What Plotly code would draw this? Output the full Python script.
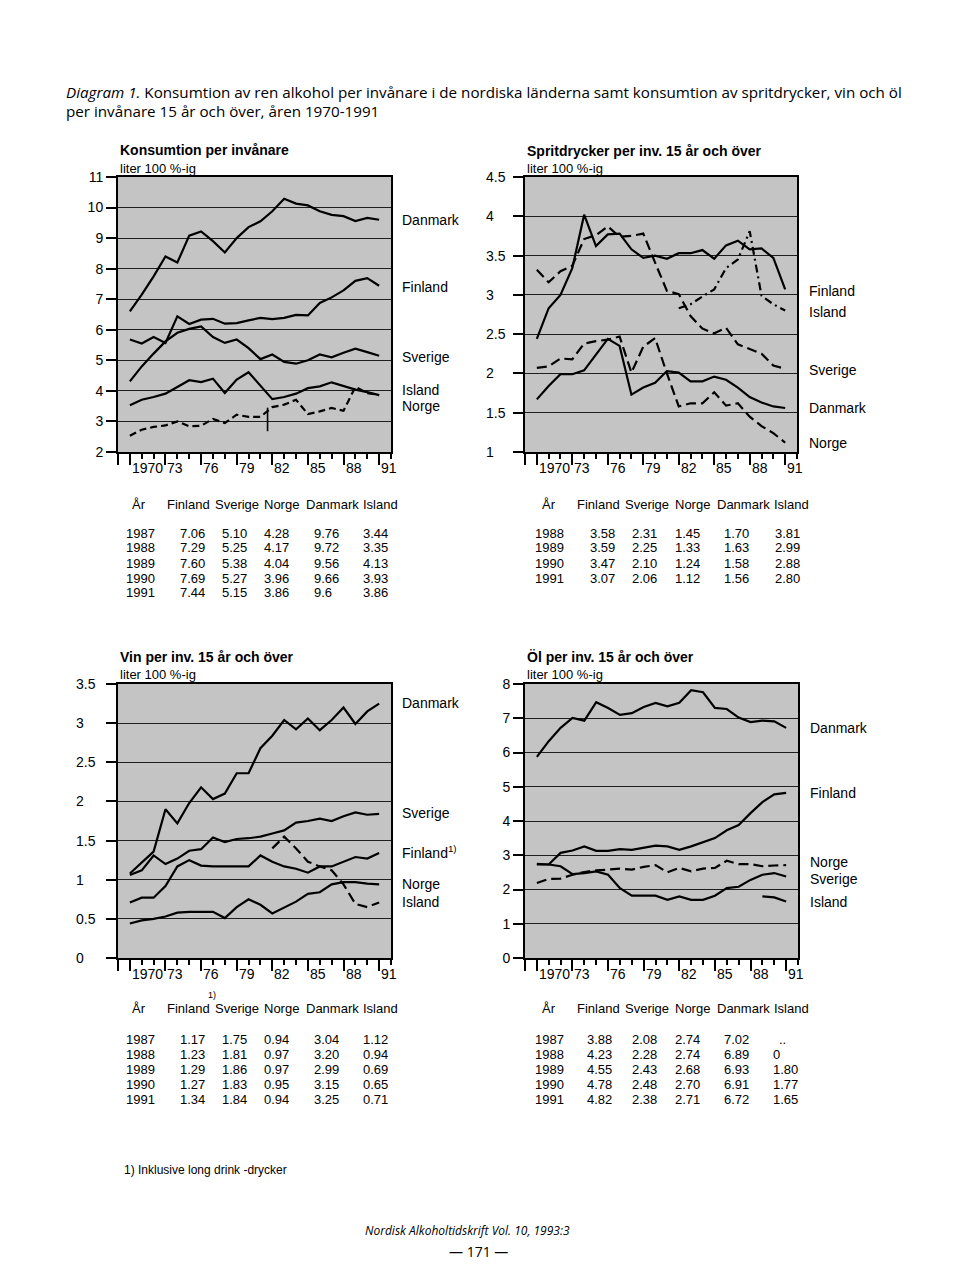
import plotly.graph_objects as go

W, H = 960, 1265
SANS = "Liberation Sans, Arial, sans-serif"
CAP = "Open Sans, sans-serif"

years = list(range(1970, 1992))
label_years = [1970, 1973, 1976, 1979, 1982, 1985, 1988, 1991]

# ---- Konsumtion per invånare (total) ----
tot_danmark = [6.60, 7.15, 7.75, 8.40, 8.20, 9.08, 9.22, 8.90, 8.53, 9.00, 9.36, 9.55, 9.88, 10.29, 10.13, 10.07, 9.88, 9.76, 9.72, 9.56, 9.66, 9.60]
tot_finland = [5.68, 5.55, 5.76, 5.57, 6.44, 6.19, 6.33, 6.36, 6.20, 6.22, 6.31, 6.39, 6.35, 6.39, 6.49, 6.47, 6.88, 7.06, 7.29, 7.60, 7.69, 7.44]
tot_sverige = [4.31, 4.80, 5.22, 5.62, 5.90, 6.03, 6.11, 5.76, 5.57, 5.68, 5.40, 5.04, 5.19, 4.95, 4.89, 5.00, 5.19, 5.10, 5.25, 5.38, 5.27, 5.15]
tot_norge = [3.53, 3.71, 3.80, 3.91, 4.13, 4.35, 4.29, 4.40, 3.93, 4.37, 4.61, 4.17, 3.73, 3.80, 3.91, 4.09, 4.15, 4.28, 4.17, 4.04, 3.96, 3.86]
tot_island = [2.53, 2.73, 2.82, 2.87, 3.00, 2.84, 2.86, 3.08, 2.95, 3.22, 3.15, 3.15, 3.47, 3.55, 3.71, 3.24, 3.33, 3.44, 3.35, 4.13, 3.93, 3.86]
island_break_year = 1981.6
island_break_values = [2.68, 3.45]

# ---- Spritdrycker ----
spr_finland = [2.44, 2.83, 3.00, 3.34, 4.02, 3.62, 3.77, 3.78, 3.58, 3.47, 3.50, 3.46, 3.53, 3.53, 3.57, 3.46, 3.63, 3.69, 3.58, 3.59, 3.47, 3.07]
spr_sverige = [3.32, 3.16, 3.30, 3.37, 3.71, 3.76, 3.87, 3.74, 3.75, 3.78, 3.41, 3.05, 3.01, 2.73, 2.57, 2.51, 2.58, 2.37, 2.31, 2.25, 2.10, 2.06]
spr_norge = [2.07, 2.09, 2.19, 2.18, 2.38, 2.41, 2.43, 2.47, 2.01, 2.34, 2.45, 2.00, 1.58, 1.62, 1.62, 1.76, 1.59, 1.62, 1.45, 1.33, 1.24, 1.12]
spr_danmark = [1.67, 1.84, 1.99, 1.99, 2.04, 2.24, 2.44, 2.35, 1.73, 1.82, 1.88, 2.03, 2.01, 1.90, 1.90, 1.96, 1.92, 1.82, 1.70, 1.63, 1.58, 1.56]
spr_island = [None] * 12 + [2.83, 2.88, 2.98, 3.07, 3.34, 3.45, 3.81, 2.99, 2.88, 2.80]

# ---- Vin ----
vin_danmark = [1.08, 1.22, 1.36, 1.90, 1.72, 1.98, 2.18, 2.03, 2.10, 2.36, 2.36, 2.68, 2.84, 3.04, 2.92, 3.06, 2.91, 3.04, 3.20, 2.99, 3.15, 3.25]
vin_sverige = [1.06, 1.12, 1.31, 1.20, 1.27, 1.37, 1.39, 1.54, 1.48, 1.52, 1.53, 1.55, 1.59, 1.63, 1.73, 1.75, 1.78, 1.75, 1.81, 1.86, 1.83, 1.84]
vin_finland = [0.71, 0.77, 0.77, 0.92, 1.17, 1.25, 1.18, 1.17, 1.17, 1.17, 1.17, 1.31, 1.23, 1.17, 1.14, 1.09, 1.17, 1.17, 1.23, 1.29, 1.27, 1.34]
vin_norge = [0.44, 0.48, 0.50, 0.53, 0.58, 0.59, 0.59, 0.59, 0.51, 0.65, 0.75, 0.68, 0.57, 0.65, 0.72, 0.82, 0.84, 0.94, 0.97, 0.97, 0.95, 0.94]
vin_island = [None] * 12 + [1.40, 1.55, 1.40, 1.23, 1.17, 1.12, 0.94, 0.69, 0.65, 0.71]

# ---- Öl ----
ol_danmark = [5.87, 6.33, 6.72, 7.01, 6.93, 7.47, 7.30, 7.10, 7.15, 7.33, 7.45, 7.35, 7.45, 7.82, 7.76, 7.30, 7.27, 7.02, 6.89, 6.93, 6.91, 6.72]
ol_finland = [2.73, 2.73, 3.07, 3.14, 3.26, 3.13, 3.13, 3.18, 3.16, 3.21, 3.28, 3.26, 3.16, 3.26, 3.39, 3.50, 3.73, 3.88, 4.23, 4.55, 4.78, 4.82]
ol_norge = [2.19, 2.31, 2.32, 2.43, 2.51, 2.56, 2.58, 2.61, 2.58, 2.66, 2.71, 2.50, 2.63, 2.53, 2.61, 2.63, 2.84, 2.74, 2.74, 2.68, 2.70, 2.71]
ol_sverige = [2.75, 2.73, 2.68, 2.45, 2.48, 2.53, 2.43, 2.04, 1.82, 1.82, 1.82, 1.70, 1.80, 1.70, 1.70, 1.82, 2.04, 2.08, 2.28, 2.43, 2.48, 2.38]
ol_island = [None] * 19 + [1.80, 1.77, 1.65]

# ---- Tables ----
tab_cols = ["Finland", "Sverige", "Norge", "Danmark", "Island"]
t1_years = ["1987", "1988", "1989", "1990", "1991"]
t1_finland = ["7.06", "7.29", "7.60", "7.69", "7.44"]
t1_sverige = ["5.10", "5.25", "5.38", "5.27", "5.15"]
t1_norge = ["4.28", "4.17", "4.04", "3.96", "3.86"]
t1_danmark = ["9.76", "9.72", "9.56", "9.66", "9.6"]
t1_island = ["3.44", "3.35", "4.13", "3.93", "3.86"]

t2_years = ["1988", "1989", "1990", "1991"]
t2_finland = ["3.58", "3.59", "3.47", "3.07"]
t2_sverige = ["2.31", "2.25", "2.10", "2.06"]
t2_norge = ["1.45", "1.33", "1.24", "1.12"]
t2_danmark = ["1.70", "1.63", "1.58", "1.56"]
t2_island = ["3.81", "2.99", "2.88", "2.80"]

t3_years = ["1987", "1988", "1989", "1990", "1991"]
t3_finland = ["1.17", "1.23", "1.29", "1.27", "1.34"]
t3_sverige = ["1.75", "1.81", "1.86", "1.83", "1.84"]
t3_norge = ["0.94", "0.97", "0.97", "0.95", "0.94"]
t3_danmark = ["3.04", "3.20", "2.99", "3.15", "3.25"]
t3_island = ["1.12", "0.94", "0.69", "0.65", "0.71"]

t4_years = ["1987", "1988", "1989", "1990", "1991"]
t4_finland = ["3.88", "4.23", "4.55", "4.78", "4.82"]
t4_sverige = ["2.08", "2.28", "2.43", "2.48", "2.38"]
t4_norge = ["2.74", "2.74", "2.68", "2.70", "2.71"]
t4_danmark = ["7.02", "6.89", "6.93", "6.91", "6.72"]
t4_island = ["..", "0", "1.80", "1.77", "1.65"]

# the page is photographed with an 8px band top and bottom: compensate
Y_OFF, Y_SCALE = 8.0, 1249.0 / 1265.0


def px(x):
    return x / W


def py(y):
    return 1 - ((y - Y_OFF) / Y_SCALE) / H


fig = go.Figure()
ann = []

SOLID = "solid"
DASH = "7px,4px"
LDASH = "10px,5px"
DASHDOT = "8px,4px,2px,4px"
LW = 2.2

panels = [
    dict(ax="", x0=118, x1=391, y0=177, y1=452, yr=[2, 11], dt=1,
         series=[(tot_danmark, SOLID), (tot_finland, SOLID), (tot_sverige, SOLID),
                 (tot_norge, SOLID), (tot_island, DASH)]),
    dict(ax="2", x0=525, x1=797, y0=177, y1=452, yr=[1, 4.5], dt=0.5,
         series=[(spr_finland, SOLID), (spr_sverige, LDASH), (spr_norge, LDASH),
                 (spr_danmark, SOLID), (spr_island, DASHDOT)]),
    dict(ax="3", x0=118, x1=391, y0=684, y1=958, yr=[0, 3.5], dt=0.5,
         series=[(vin_danmark, SOLID), (vin_sverige, SOLID), (vin_finland, SOLID),
                 (vin_norge, SOLID), (vin_island, LDASH)]),
    dict(ax="4", x0=525, x1=798, y0=684, y1=958, yr=[0, 8], dt=1,
         series=[(ol_danmark, SOLID), (ol_finland, SOLID), (ol_norge, LDASH),
                 (ol_sverige, SOLID), (ol_island, SOLID)]),
]

layout = {}
for i, p in enumerate(panels):
    a = p["ax"]
    xa, ya = "x" + a, "y" + a
    for vals, dash in p["series"]:
        fig.add_trace(go.Scatter(x=years, y=vals, mode="lines", xaxis=xa, yaxis=ya,
                                 line=dict(color="black", width=LW, dash=dash),
                                 connectgaps=False, showlegend=False, hoverinfo="skip"))
    tick_labels_on = i in (0, 3)
    layout["xaxis" + a] = dict(
        domain=[px(p["x0"]), px(p["x1"])], anchor=ya, range=[1969, 1992],
        tickmode="array", tickvals=[1969] + label_years, showticklabels=False,
        ticks="outside", ticklen=11, tickwidth=2, tickcolor="black",
        minor=dict(tickmode="array", tickvals=list(range(1969, 1993)), ticks="outside",
                   ticklen=5, tickwidth=2, tickcolor="black", showgrid=False),
        showgrid=False, zeroline=False, showline=True, linewidth=2, linecolor="black", mirror=True)
    layout["yaxis" + a] = dict(
        domain=[py(p["y1"]), py(p["y0"])], anchor=xa, range=p["yr"], dtick=p["dt"], tick0=0,
        ticks="outside", ticklen=10, tickwidth=2, tickcolor="black",
        showticklabels=tick_labels_on, tickfont=dict(family=SANS, size=14, color="black"),
        showgrid=True, gridcolor="#1e1e1e", gridwidth=1, zeroline=False,
        showline=True, linewidth=2, linecolor="black", mirror=True)
    for yv in label_years:
        ann.append(dict(x=yv, y=0, xref=xa, yref=ya + " domain", xanchor="left", yanchor="middle",
                        yshift=-16, text=str(yv) if yv == 1970 else str(yv)[2:], showarrow=False,
                        font=dict(family=SANS, size=14, color="black")))
    if not tick_labels_on:
        lx = 484 if i == 1 else 74
        v = p["yr"][0]
        while v <= p["yr"][1] + 1e-9:
            ann.append(dict(x=px(lx), y=v, xref="paper", yref=ya, xanchor="left", yanchor="middle",
                            text=("%g" % v), showarrow=False,
                            font=dict(family=SANS, size=14, color="black")))
            v += p["dt"]

# Island break marker in total panel
fig.add_trace(go.Scatter(x=[island_break_year, island_break_year], y=island_break_values,
                         mode="lines", line=dict(color="black", width=1.6), xaxis="x", yaxis="y",
                         showlegend=False, hoverinfo="skip"))


def txt(x, y, s, size=13, anchor="left", family=SANS):
    ann.append(dict(x=px(x), y=py(y), xref="paper", yref="paper", text=s, showarrow=False,
                    xanchor=anchor, yanchor="middle", font=dict(family=family, size=size, color="black")))


# titles
txt(118, 150, "<b>Konsumtion per invånare</b>", 14)
txt(118, 168, "liter 100 %-ig", 13)
txt(525, 151, "<b>Spritdrycker per inv. 15 år och över</b>", 14)
txt(525, 168, "liter 100 %-ig", 13)
txt(118, 657, "<b>Vin per inv. 15 år och över</b>", 14)
txt(118, 674, "liter 100 %-ig", 13)
txt(525, 657, "<b>Öl per inv. 15 år och över</b>", 14)
txt(525, 674, "liter 100 %-ig", 13)

# right-hand series labels
for s, y in [("Danmark", 220), ("Finland", 287), ("Sverige", 357), ("Island", 390), ("Norge", 406)]:
    txt(400, y, s, 14)
for s, y in [("Finland", 291), ("Island", 312), ("Sverige", 370), ("Danmark", 408), ("Norge", 443)]:
    txt(807, y, s, 14)
for s, y in [("Danmark", 703), ("Sverige", 813), ("Finland<sup>1)</sup>", 852), ("Norge", 884), ("Island", 902)]:
    txt(400, y, s, 14)
for s, y in [("Danmark", 728), ("Finland", 793), ("Norge", 862), ("Sverige", 879), ("Island", 902)]:
    txt(808, y, s, 14)


def table(hx, hy, yx, vx, rows_y, yrs, cols):
    txt(hx[0], hy, "År", 13)
    for name, x in zip(tab_cols, hx[1:]):
        txt(x, hy, name, 13)
    for j, yy in enumerate(rows_y):
        txt(yx, yy, yrs[j], 13)
        for col, x in zip(cols, vx):
            cx = x + 6 if col[j] == ".." else x
            txt(cx, yy, col[j], 13)


left_h = [130, 165, 213, 262, 304, 361]
right_h = [540, 575, 623, 673, 715, 772]
table(left_h, 504, 124, [178, 220, 262, 312, 361], [533, 548, 563, 578, 592], t1_years,
      [t1_finland, t1_sverige, t1_norge, t1_danmark, t1_island])
table(right_h, 504, 533, [588, 630, 673, 722, 773], [533, 548, 563, 578], t2_years,
      [t2_finland, t2_sverige, t2_norge, t2_danmark, t2_island])
table(left_h, 1008, 124, [178, 220, 262, 312, 361], [1039, 1054, 1069, 1084, 1099], t3_years,
      [t3_finland, t3_sverige, t3_norge, t3_danmark, t3_island])
txt(206, 995, "1)", 9)
table(right_h, 1008, 533, [585, 630, 673, 722, 771], [1039, 1054, 1069, 1084, 1099], t4_years,
      [t4_finland, t4_sverige, t4_norge, t4_danmark, t4_island])

# caption, footnote, footer
txt(64, 92, "<i>Diagram 1.</i> Konsumtion av ren alkohol per invånare i de nordiska länderna samt konsumtion av spritdrycker, vin och öl", 15.2, family=CAP)
txt(64, 111, "per invånare 15 år och över, åren 1970-1991", 15.2, family=CAP)
txt(122, 1170, "1) Inklusive long drink -drycker", 12)
txt(467, 1230, "<i>Nordisk Alkoholtidskrift Vol. 10, 1993:3</i>", 12, anchor="center", family=CAP)
txt(478, 1251, "— 171 —", 14, anchor="center", family=CAP)

fig.update_layout(width=W, height=H, margin=dict(l=0, r=0, t=0, b=0),
                  paper_bgcolor="white", plot_bgcolor="#c4c4c4",
                  annotations=ann, showlegend=False, **layout)
fig.write_html(
    "out.html",
    config={"displayModeBar": False},
    post_script=(
        "document.documentElement.style.margin='0';"
        "document.body.style.margin='0';document.body.style.padding='0';"
        "var d=document.getElementById('{plot_id}');"
        "d.style.position='absolute';d.style.top='0px';d.style.left='0px';"
        "document.documentElement.style.overflow='hidden';"
    ),
)
